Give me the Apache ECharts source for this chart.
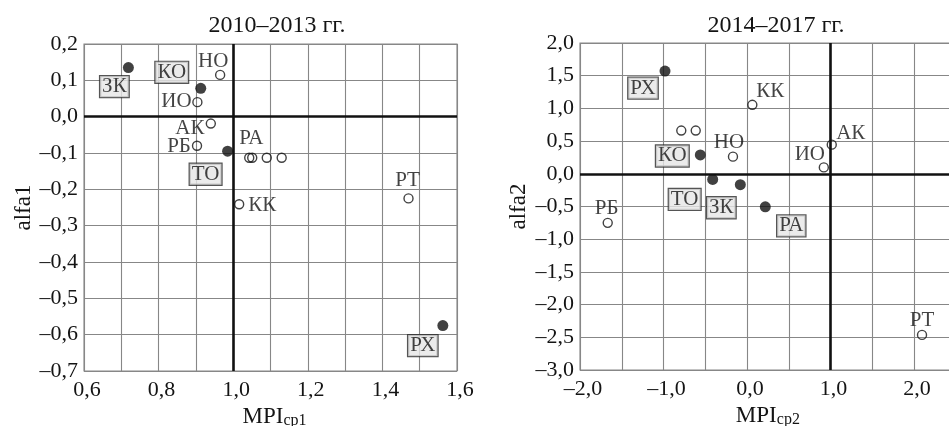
<!DOCTYPE html>
<html>
<head>
<meta charset="utf-8">
<script src="https://cdn.jsdelivr.net/npm/echarts@6/dist/echarts.min.js"></script>
<style>
  html, body { margin: 0; padding: 0; background: #fff; }
  #chart { width: 949px; height: 426px; }
</style>
</head>
<body>
<div id="chart"></div>
<script>
// ---- data: 2010–2013 ----
const regions1 = ['ЗК', 'КО', 'ТО', 'РХ', 'НО', 'ИО', 'АК', 'РБ', 'РА', '', '', '', 'КК', 'РТ'];
const mpi1 = [0.719, 0.913, 0.985, 1.562, 0.965, 0.904, 0.940, 0.903, 1.043, 1.051, 1.090, 1.130, 1.016, 1.470];
const alfa1 = [0.135, 0.078, -0.095, -0.575, 0.115, 0.040, -0.019, -0.080, -0.113, -0.113, -0.113, -0.113, -0.241, -0.225];
const filled1 = [1, 1, 1, 1, 0, 0, 0, 0, 0, 0, 0, 0, 0, 0];

// ---- data: 2014–2017 ----
const regions2 = ['РХ', 'КО', 'ТО', 'ЗК', 'РА', '', '', 'КК', 'НО', 'АК', 'ИО', 'РБ', 'РТ'];
const mpi2 = [-0.982, -0.559, -0.411, -0.080, 0.219, -0.787, -0.614, 0.064, -0.168, 1.015, 0.920, -1.668, 2.096];
const alfa2 = [1.57, 0.288, -0.086, -0.167, -0.505, 0.661, 0.661, 1.055, 0.262, 0.446, 0.098, -0.75, -2.463];
const filled2 = [1, 1, 1, 1, 1, 0, 0, 0, 0, 0, 0, 0, 0];

// tick labels
const xTicks1 = [0.6, 0.8, 1.0, 1.2, 1.4, 1.6];
const yTicks1 = [0.2, 0.1, 0.0, -0.1, -0.2, -0.3, -0.4, -0.5, -0.6, -0.7];
const xTicks2 = [-2.0, -1.0, 0.0, 1.0, 2.0];
const yTicks2 = [2.0, 1.5, 1.0, 0.5, 0.0, -0.5, -1.0, -1.5, -2.0, -2.5, -3.0];

// label placement (pixel offsets of label centre from the marker)
const labelOffset1 = {
  'ЗК': [-14, 19], 'КО': [-29, -16], 'ТО': [-22, 23], 'РХ': [-20, 20],
  'НО': [-7, -13], 'ИО': [-21, -1], 'АК': [-21, 5], 'РБ': [-18, 1],
  'РА': [2, -19], 'КК': [23, 1], 'РТ': [-1, -18]
};
const labelOffset2 = {
  'РХ': [-22, 17], 'КО': [-28, 1], 'ТО': [-28, 20], 'ЗК': [-19, 23], 'РА': [26, 19],
  'КК': [18, -13], 'НО': [-4, -14], 'АК': [19, -11], 'ИО': [-14, -13], 'РБ': [-1, -14], 'РТ': [0, -14]
};

const FONT = '"Liberation Serif", "Times New Roman", serif';
const INK = '#141414';
const GRIDC = '#878787';

function fmt(v) {
  const r = Math.round(v * 10) / 10;
  const s = Math.abs(r).toFixed(1).replace('.', ',');
  return r < 0 ? '\u2013' + s : s;
}
function tickFormatter(list) {
  return function (v) {
    return list.some(t => Math.abs(t - v) < 1e-6) ? fmt(v) : '';
  };
}

function buildData(names, xs, ys, filled, offsets) {
  return names.map((n, i) => {
    const isFilled = filled[i] === 1;
    const item = {
      name: n,
      value: [xs[i], ys[i]],
      symbolSize: isFilled ? 11 : 9,
      itemStyle: isFilled
        ? { color: '#111', borderColor: '#111', borderWidth: 0 }
        : { color: 'rgba(255,255,255,0)', borderColor: '#111', borderWidth: 1.4 }
    };
    if (n) {
      const off = offsets[n] || [0, 0];
      item.label = isFilled ? {
        show: true, position: 'inside', offset: off, formatter: n,
        fontFamily: FONT, fontSize: 21, color: INK,
        backgroundColor: '#e6e6e6', borderColor: '#2a2a2a', borderWidth: 1.2,
        padding: [2, 2, 1, 2], lineHeight: 18
      } : {
        show: true, position: 'inside', offset: off, formatter: n,
        fontFamily: FONT, fontSize: 21, color: INK
      };
    } else {
      item.label = { show: false };
    }
    return item;
  });
}

function refLines(idx, xv) {
  return {
    type: 'scatter', xAxisIndex: idx, yAxisIndex: idx, data: [], z: 1, silent: true,
    markLine: {
      silent: true, symbol: 'none', label: { show: false },
      lineStyle: { color: '#111', width: 2.6, type: 'solid' },
      data: [{ xAxis: xv }, { yAxis: 0 }],
      animation: false
    }
  };
}

const axisCommon = {
  type: 'value',
  axisLine: { show: false },
  axisTick: { show: false },
  splitLine: { show: true, lineStyle: { color: GRIDC, width: 1.1 } },
  nameLocation: 'middle'
};
const labelStyle = { fontFamily: FONT, fontSize: 22, color: INK };
const nameRich = {
  a: { fontFamily: FONT, fontSize: 23, color: INK, lineHeight: 24, verticalAlign: 'bottom' },
  b: { fontFamily: FONT, fontSize: 16, color: INK, lineHeight: 24, verticalAlign: 'bottom', padding: [7, 0, 0, 0] }
};
const gridCommon = {
  show: true, borderColor: GRIDC, borderWidth: 1.1,
  containLabel: false, outerBoundsMode: 'none'
};

const chart = echarts.init(document.getElementById('chart'), null, { renderer: 'canvas' });
chart.setOption({
  animation: false,
  backgroundColor: '#fff',
  title: [
    { text: '2010–2013 гг.', left: 272, top: 9, textAlign: 'center',
      textStyle: { fontFamily: FONT, fontSize: 24, fontWeight: 'normal', color: INK } },
    { text: '2014–2017 гг.', left: 771, top: 9, textAlign: 'center',
      textStyle: { fontFamily: FONT, fontSize: 24, fontWeight: 'normal', color: INK } }
  ],
  grid: [
    Object.assign({ left: 84, top: 44, width: 373, height: 327 }, gridCommon),
    Object.assign({ left: 580, top: 43, width: 375.75, height: 327 }, gridCommon)
  ],
  xAxis: [
    Object.assign({}, axisCommon, {
      gridIndex: 0, min: 0.6, max: 1.6, interval: 0.1,
      axisLabel: Object.assign({}, labelStyle, { margin: 8, padding: [0, 0, 0, 6], formatter: tickFormatter(xTicks1), showMinLabel: true, showMaxLabel: true }),
      name: '{a|MPI}{b|ср1}', nameGap: 28, nameTextStyle: { rich: nameRich, padding: [0, 0, 0, 8] }
    }),
    Object.assign({}, axisCommon, {
      gridIndex: 1, min: -2.0, max: 2.5, interval: 0.5,
      axisLabel: Object.assign({}, labelStyle, { margin: 8, padding: [0, 0, 0, 6], formatter: tickFormatter(xTicks2), showMinLabel: true, showMaxLabel: true }),
      name: '{a|MPI}{b|ср2}', nameGap: 28, nameTextStyle: { rich: nameRich, padding: [0, 0, 0, 0] }
    })
  ],
  yAxis: [
    Object.assign({}, axisCommon, {
      gridIndex: 0, min: -0.7, max: 0.2, interval: 0.1,
      axisLabel: Object.assign({}, labelStyle, { margin: 6, formatter: tickFormatter(yTicks1), showMinLabel: true, showMaxLabel: true }),
      name: 'alfa1', nameGap: 45, nameTextStyle: { fontFamily: FONT, fontSize: 23, color: INK }
    }),
    Object.assign({}, axisCommon, {
      gridIndex: 1, min: -3.0, max: 2.0, interval: 0.5,
      axisLabel: Object.assign({}, labelStyle, { margin: 6, formatter: tickFormatter(yTicks2), showMinLabel: true, showMaxLabel: true }),
      name: 'alfa2', nameGap: 50, nameTextStyle: { fontFamily: FONT, fontSize: 23, color: INK }
    })
  ],
  series: [
    refLines(0, 1.0),
    refLines(1, 1.0),
    {
      type: 'scatter', xAxisIndex: 0, yAxisIndex: 0, z: 5, symbol: 'circle',
      data: buildData(regions1, mpi1, alfa1, filled1, labelOffset1)
    },
    {
      type: 'scatter', xAxisIndex: 1, yAxisIndex: 1, z: 5, symbol: 'circle',
      data: buildData(regions2, mpi2, alfa2, filled2, labelOffset2)
    }
  ]
});
</script>
</body>
</html>
